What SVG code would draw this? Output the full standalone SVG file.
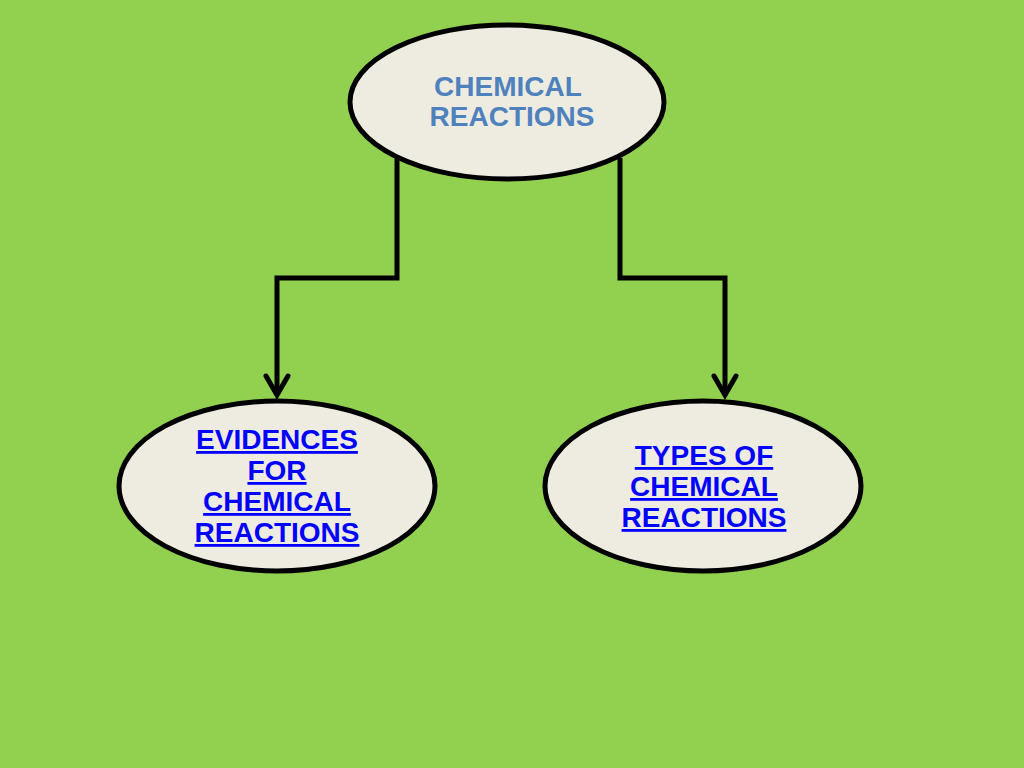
<svg xmlns="http://www.w3.org/2000/svg" width="1024" height="768" viewBox="0 0 1024 768">
<defs>
<style>
.node{fill:#eeece1;stroke:#000;stroke-width:5}
.conn{fill:none;stroke:#000;stroke-width:5;stroke-linejoin:miter}
.head{fill:none;stroke:#000;stroke-width:5;stroke-linecap:round;stroke-linejoin:miter}
.t{font-family:"Liberation Sans",Arial,sans-serif;font-weight:bold;font-size:28px;text-anchor:middle}
.top{fill:#4f81bd}
.link{fill:#0000ff;text-decoration:underline}
</style>
</defs>
<rect width="1024" height="768" fill="#92d050"/>
<g id="connectors">
<polyline class="conn" points="397,158 397,278 277,278 277,394"/>
<polyline class="head" points="266,376 277,395 288,376"/>
<polyline class="conn" points="620,158 620,278 725,278 725,394"/>
<polyline class="head" points="714,376 725,395 736,376"/>
</g>
<g id="chemical-reactions">
<ellipse class="node" cx="507" cy="102" rx="157" ry="77"/>
<text class="t top" x="508" y="96">CHEMICAL</text>
<text class="t top" x="512" y="126">REACTIONS</text>
</g>
<g id="evidences">
<ellipse class="node" cx="277" cy="486" rx="158" ry="85"/>
<text class="t link" x="277" y="449">EVIDENCES</text>
<text class="t link" x="277" y="480">FOR</text>
<text class="t link" x="277" y="511">CHEMICAL</text>
<text class="t link" x="277" y="542">REACTIONS</text>
</g>
<g id="types">
<ellipse class="node" cx="703" cy="486" rx="158" ry="85"/>
<text class="t link" x="704" y="465">TYPES OF</text>
<text class="t link" x="704" y="496">CHEMICAL</text>
<text class="t link" x="704" y="527">REACTIONS</text>
</g>
</svg>
